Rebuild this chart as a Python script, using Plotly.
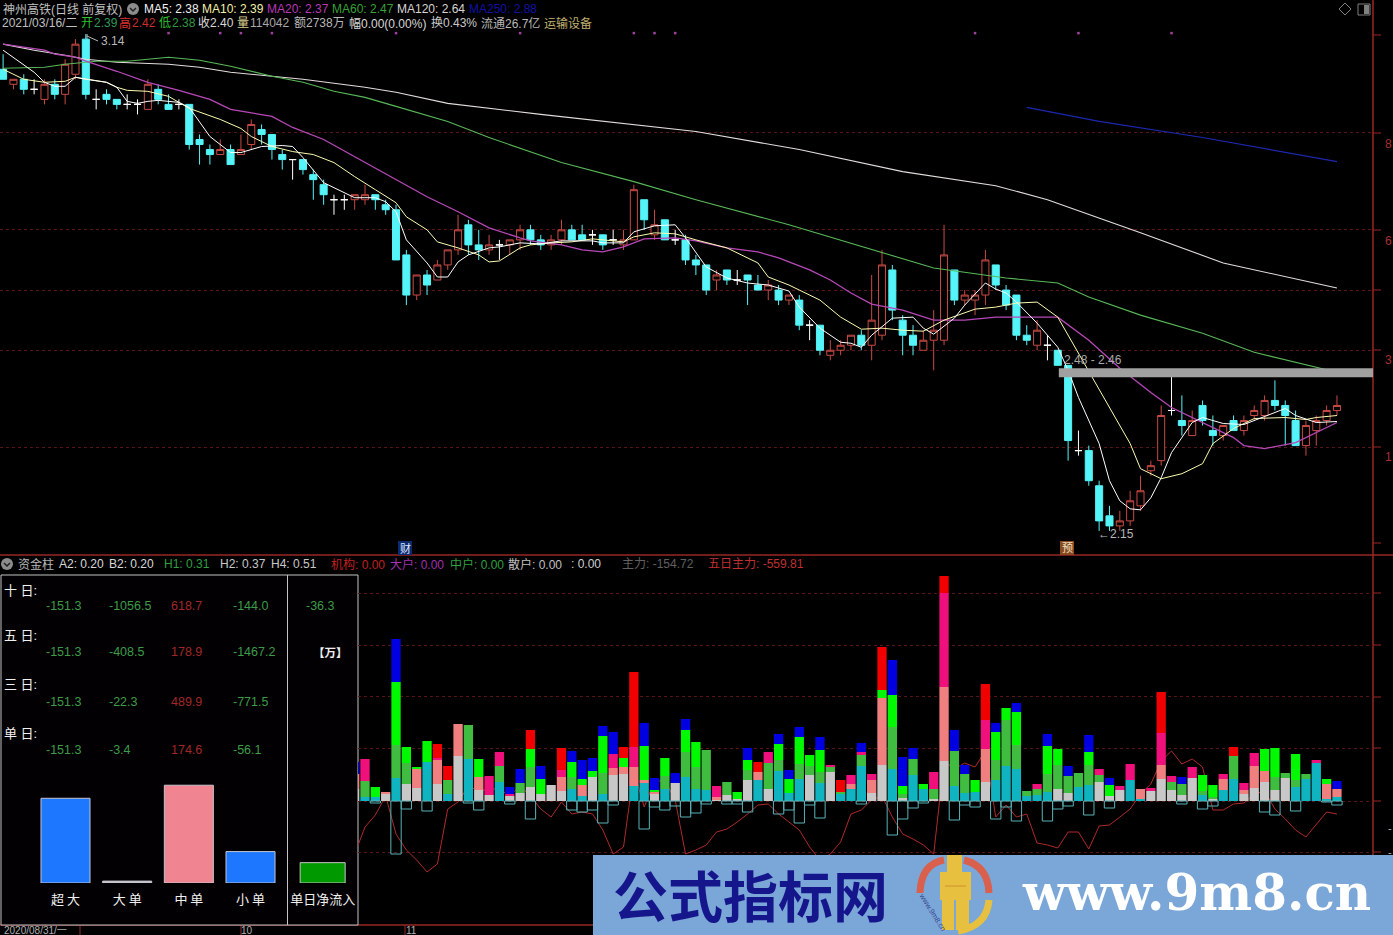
import plotly.graph_objects as go

W, H = 1393, 935
FONT = "Liberation Sans, Noto Sans CJK SC"

# ---------- candles (front-adjusted price, one row of ten per line) ----------
opens = [3.07,3.04,3.05,3.03,3.01,3.04,3.02,3.06,3.13,3.01,
 3.02,3.01,3.00,3.00,2.99,3.03,3.00,3.00,3.00,2.93,
 2.91,2.90,2.91,2.90,2.92,2.95,2.94,2.90,2.89,2.89,
 2.86,2.84,2.81,2.81,2.81,2.81,2.82,2.80,2.79,2.70,
 2.62,2.66,2.65,2.68,2.71,2.76,2.72,2.71,2.72,2.72,
 2.73,2.75,2.73,2.72,2.73,2.75,2.74,2.74,2.74,2.73,
 2.72,2.73,2.81,2.74,2.77,2.73,2.73,2.69,2.68,2.65,
 2.67,2.65,2.66,2.64,2.63,2.63,2.61,2.61,2.56,2.56,
 2.50,2.51,2.52,2.54,2.52,2.54,2.67,2.57,2.54,2.51,
 2.53,2.53,2.67,2.61,2.61,2.62,2.68,2.63,2.62,2.54,
 2.52,2.52,2.51,2.48,2.31,2.31,2.24,2.18,2.16,2.17,
 2.20,2.27,2.29,2.39,2.37,2.34,2.40,2.35,2.34,2.37,
 2.35,2.38,2.38,2.41,2.40,2.37,2.32,2.35,2.37,2.39]
highs = [3.10,3.05,3.06,3.05,3.05,3.05,3.09,3.13,3.14,3.03,
 3.03,3.01,3.02,3.01,3.05,3.04,3.02,3.01,3.00,2.94,
 2.92,2.93,2.92,2.94,2.97,2.96,2.94,2.91,2.89,2.89,
 2.87,2.85,2.82,2.82,2.82,2.84,2.82,2.81,2.80,2.71,
 2.66,2.67,2.69,2.71,2.78,2.77,2.75,2.74,2.73,2.73,
 2.76,2.76,2.74,2.74,2.77,2.76,2.76,2.75,2.74,2.75,
 2.75,2.84,2.81,2.79,2.77,2.75,2.74,2.70,2.68,2.67,
 2.67,2.67,2.66,2.66,2.65,2.64,2.62,2.62,2.57,2.56,
 2.53,2.53,2.54,2.55,2.66,2.71,2.68,2.58,2.56,2.55,
 2.59,2.76,2.67,2.63,2.63,2.71,2.68,2.64,2.62,2.56,
 2.57,2.54,2.51,2.48,2.35,2.32,2.25,2.20,2.19,2.23,
 2.26,2.29,2.40,2.46,2.42,2.39,2.41,2.38,2.36,2.38,
 2.38,2.40,2.42,2.45,2.41,2.39,2.37,2.38,2.40,2.42]
lows = [3.05,3.03,3.02,3.02,3.00,3.01,3.00,3.05,3.01,2.99,
 3.00,2.99,2.99,2.98,2.99,3.00,2.99,2.99,2.91,2.88,
 2.88,2.90,2.88,2.90,2.91,2.92,2.89,2.87,2.85,2.86,
 2.81,2.80,2.78,2.79,2.79,2.80,2.79,2.78,2.69,2.60,
 2.61,2.62,2.65,2.67,2.70,2.70,2.69,2.70,2.69,2.70,
 2.71,2.72,2.71,2.71,2.72,2.73,2.73,2.72,2.71,2.72,
 2.71,2.73,2.75,2.73,2.73,2.72,2.68,2.66,2.62,2.63,
 2.64,2.64,2.60,2.63,2.61,2.60,2.60,2.55,2.53,2.50,
 2.49,2.50,2.51,2.51,2.49,2.53,2.57,2.50,2.50,2.51,
 2.47,2.52,2.60,2.60,2.58,2.60,2.63,2.59,2.53,2.52,
 2.51,2.49,2.48,2.29,2.30,2.24,2.15,2.15,2.15,2.16,
 2.19,2.26,2.28,2.38,2.34,2.34,2.36,2.32,2.33,2.35,
 2.34,2.37,2.37,2.39,2.32,2.32,2.30,2.32,2.36,2.38]
closes = [3.05,3.05,3.03,3.03,3.04,3.02,3.08,3.12,3.02,3.01,
 3.01,3.00,3.00,3.00,3.04,3.01,2.99,3.00,2.92,2.92,
 2.90,2.91,2.88,2.91,2.96,2.94,2.91,2.89,2.89,2.87,
 2.85,2.82,2.81,2.81,2.82,2.82,2.81,2.79,2.69,2.62,
 2.66,2.64,2.68,2.71,2.75,2.72,2.71,2.72,2.72,2.73,
 2.75,2.73,2.72,2.73,2.75,2.73,2.73,2.74,2.72,2.73,
 2.73,2.83,2.77,2.76,2.73,2.73,2.69,2.68,2.63,2.66,
 2.65,2.65,2.65,2.63,2.64,2.61,2.62,2.56,2.56,2.51,
 2.51,2.52,2.54,2.52,2.57,2.68,2.59,2.54,2.52,2.53,
 2.55,2.70,2.61,2.62,2.62,2.69,2.64,2.60,2.54,2.53,
 2.55,2.52,2.48,2.33,2.31,2.25,2.17,2.16,2.17,2.21,
 2.23,2.28,2.38,2.39,2.36,2.37,2.37,2.34,2.36,2.35,
 2.37,2.39,2.41,2.40,2.38,2.32,2.36,2.37,2.39,2.40]

# ---------- moving averages (sampled at the candle index) ----------
ma5_i = [0,3,4,5,6,7,8,10,11,12,13,14,15,17,18,19,20,22,23,25,27,28,29,31,33,34,36,37,38,39,41,42,43,44,45,47,48,50,52,54,57,58,60,61,63,65,66,67,68,70,72,74,76,77,79,81,82,83,84,86,88,89,90,92,93,95,96,97,98,100,102,103,104,106,107,108,109,110,111,112,113,115,116,118,120,122,124,125,127,129]
ma5_v = [3.108,3.064,3.044,3.036,3.036,3.054,3.05,3.044,3.034,3.006,3.002,3.006,3.008,3.004,2.994,2.966,2.936,2.904,2.904,2.916,2.918,2.916,2.894,2.844,2.824,2.814,2.814,2.806,2.786,2.73,2.684,2.656,2.656,2.686,2.70,2.714,2.716,2.724,2.722,2.728,2.728,2.724,2.724,2.746,2.758,2.76,2.734,2.706,2.676,2.654,2.644,2.64,2.628,2.596,2.554,2.526,2.524,2.516,2.54,2.574,2.576,2.554,2.542,2.574,2.60,2.644,2.632,2.624,2.606,2.564,2.516,2.47,2.416,2.324,2.25,2.21,2.194,2.192,2.216,2.256,2.306,2.366,2.376,2.364,2.362,2.378,2.394,2.38,2.366,2.368]
ma10_i = [0,2,4,6,7,10,11,12,14,16,17,18,21,23,24,26,28,30,32,34,36,38,39,41,42,44,46,47,48,50,51,53,55,57,59,60,61,63,65,67,70,73,74,76,77,79,81,83,85,87,89,91,94,96,98,100,102,103,105,107,109,110,112,114,116,117,119,121,124,126,127,129]
ma10_v = [3.07,3.05,3.044,3.046,3.054,3.044,3.034,3.028,3.026,3.016,3.004,2.992,2.97,2.952,2.936,2.916,2.906,2.90,2.884,2.856,2.83,2.804,2.776,2.75,2.726,2.714,2.70,2.686,2.688,2.714,2.72,2.724,2.726,2.732,2.728,2.726,2.736,2.744,2.742,2.73,2.714,2.684,2.656,2.64,2.63,2.61,2.576,2.552,2.554,2.55,2.548,2.57,2.592,2.596,2.604,2.606,2.576,2.54,2.47,2.396,2.324,2.274,2.254,2.264,2.284,2.324,2.354,2.374,2.376,2.372,2.376,2.38]
ma20_i = [0,3,4,5,7,8,11,14,17,20,22,26,28,31,34,38,41,44,47,50,51,54,56,58,60,62,65,67,70,73,75,78,80,82,84,87,90,93,96,102,104,105,108,111,113,116,119,120,122,125,127,129]
ma20_v = [3.12,3.112,3.108,3.10,3.094,3.086,3.066,3.044,3.028,3.01,2.99,2.976,2.954,2.93,2.896,2.85,2.816,2.786,2.754,2.734,2.728,2.72,2.71,2.706,2.716,2.732,2.734,2.728,2.714,2.706,2.694,2.67,2.65,2.624,2.602,2.59,2.57,2.57,2.576,2.576,2.546,2.53,2.474,2.426,2.396,2.366,2.336,2.32,2.314,2.326,2.346,2.366]
ma60_i = [0,4,6,9,12,16,19,22,26,29,32,35,38,43,47,54,61,67,76,85,90,97,102,105,110,116,121,129]
ma60_v = [3.072,3.074,3.08,3.086,3.086,3.094,3.088,3.076,3.056,3.044,3.026,3.014,2.996,2.966,2.934,2.884,2.846,2.81,2.76,2.704,2.674,2.654,2.644,2.616,2.58,2.544,2.506,2.466]
ma120_i = [0,3,6,8,11,16,19,22,26,29,32,35,38,43,52,61,67,77,87,96,101,110,118,129]
ma120_v = [3.12,3.108,3.098,3.09,3.084,3.08,3.074,3.064,3.056,3.05,3.042,3.034,3.024,3.002,2.98,2.96,2.946,2.91,2.866,2.838,2.81,2.744,2.684,2.634]
ma250_i = [99,106,116,129]
ma250_v = [2.994,2.966,2.934,2.886]

flag_i = [16,21,23,26,38,50,61,63,65,94,104,113]
flag_price = 3.142
band_low, band_high = 2.456, 2.474
main_grid = [2.944,2.75,2.63,2.51,2.316]

# ---------- 资金柱 stacked columns, first column = candle 34 ----------
bar_start = 34
l1_codes = "GTTGTGGTGT" "GTGGTGGGGG" "GTTGTGGTTG" "TGTTTGGGGT" "GTTTGTGTTT" "GGTGTTGGTT" "TGTTTTTTGG" "TTGGGTTGGG" "GGTGTTGGGG" "GTTTTT"
l1_vals = [12,4,4,7,23,17,13,39,17,7, 45,42,11,6,19,5,8,14,7,16, 10,12,5,24,7,26,27,15,18,7, 12,18,24,12,11,1,6,2,21,21,
 12,30,8,22,26,18,29,7,12,35, 8,36,32,3,26,12,2,40,15,8, 9,19,21,35,32,5,6,9,12,8, 14,16,19,5,11,21,2,10,22,11,
 6,23,6,2,11,22,7,13,19,11, 23,14,22,38,2,4]
l2_codes = "SDDSDDSDSD" "SDSSDSDDDS" "SDSDDSSSSS" "DDDDDSDDDS" "DDDDDDDDSD" "SSDDDDDSDD" "DSDDDDDDDD" "DDDDDDSDSD" "DDDDSDSSSD" "DDDDSS"
l2_vals = [15,16,0,2,33,21,19,0,24,14, 32,34,13,0,16,0,10,20,0,0, 14,12,11,0,21,7,7,19,3,2, 13,0,25,22,40,3,13,0,10,8,
 26,11,0,15,9,11,5,2,5,11, 13,67,42,4,16,0,10,74,35,19, 0,33,20,46,24,5,6,18,24,17, 14,20,7,0,0,0,10,0,14,8,
 11,0,4,2,11,23,4,22,11,13, 5,7,5,0,15,8]
l3_codes = "PPLLLLLLPP" "LLLPPPLLLL" "PLLLLPLPLL" "LLLLLPLLLL" "PLLLLLPLPP" "PLLLLLPPLL" "LPLLLLPLLL" "LLPLPPLPPP" "LPLLPLPPLL" "LLLPLL"
l3_vals = [0,22,10,0,63,16,2,21,2,0, 0,0,18,19,14,2,0,18,15,0, 7,15,6,6,37,14,9,20,34,2, 18,0,22,25,0,11,0,7,10,0,
 11,16,14,27,11,22,2,0,9,3, 6,8,32,8,0,5,17,94,0,0, 12,29,28,12,33,0,5,28,16,0, 0,13,6,11,4,16,0,3,32,6,
 0,11,16,12,5,0,7,13,22,29, 0,26,0,3,5,0]
l4_codes = "BRBBBBBBRR" "BBBBBBBRBR" "RBBBBBRRBB" "BBBBBBBBBR" "BBBBBBBRBB" "BRBBBBBRBB" "BRBBBBBBBB" "BBBBBBBBRB" "BBBBBRBBBB" "BBBBBB"
l4_vals = [12,0,0,0,43,0,0,0,14,14, 0,0,0,0,0,7,14,19,13,0, 22,11,19,13,10,22,11,75,23,12, 0,10,11,0,0,0,0,0,12,10,
 0,10,9,10,0,13,0,12,0,9, 0,43,35,29,11,0,0,17,21,9, 0,36,9,0,9,0,0,12,0,10, 0,17,0,7,0,0,0,0,41,0,
 7,0,0,0,0,9,0,0,0,0, 0,0,0,0,0,8]
outflow_vals = [0,0,-2,0,-53,-8,0,-10,0,0, 0,-2,-9,0,0,-3,0,-18,0,0, 0,-9,-11,-9,-22,-4,0,0,-28,-6, -9,-5,-16,-12,-3,0,-3,-3,-11,0,
 0,-13,-9,-22,-4,-17,0,0,0,-3, 0,0,-34,-18,-7,-2,0,0,-19,-4, -6,0,-18,-6,-20,0,0,-20,-8,-5, 0,-14,0,-7,0,0,0,0,0,0,
 -3,0,-8,-5,0,0,0,0,-11,-14, 0,-10,0,0,-1,-4]
flow_line = [-53,-26,-14,5,-33,-49,-59,-71,-63,-8, -1,15,10,12,12,5,15,5,-8,-16, -1,-13,-11,-13,-29,-53,-46,30,-6,20, 20,1,-53,-49,-44,-31,-28,-21,-13,-4,
 -3,-13,-21,-29,-46,-59,-53,-41,-13,-9, 1,5,-16,-33,-38,-44,-53,40,32,38, 34,50,-16,-4,-16,-13,-42,-44,-47,-31, -31,-48,-25,-24,-16,-8,7,17,40,50,
 37,42,34,-9,-9,-3,-2,7,10,-8, -18,-29,-36,-23,-11,-13]
sub_grid = [-51,0,53,105,156,208]
palette = dict(G="#c8c8c8", T="#10b4c0", S="#f08080", D="#40bc40", P="#f0107c", L="#00f800", R="#f00000", B="#0000e0")

# ---------- left table ----------
order_names = ["超 大","大 单","中 单","小 单"]
today_abs = [151.3,3.4,174.6,56.1]
net_name = "单日净流入"
net_abs = 36.3
row_names = ["十 日:","五 日:","三 日:","单 日:"]
row_texts = [["-151.3","-1056.5","618.7","-144.0"],["-151.3","-408.5","178.9","-1467.2"],["-151.3","-22.3","489.9","-771.5"],["-151.3","-3.4","174.6","-56.1"]]

# ---------- pixel helpers for furniture ----------
px = lambda x: x / W
py = lambda y: 1 - y / H
P0, DX = 3.1, 10.34
X_RIGHT = 1373
LEFT_W = 358

anns, shapes = [], []
def txt(x, y, s, color, size=12, anchor="left", **kw):
    anns.append(dict(x=px(x), y=py(y), xref="paper", yref="paper", text=s, showarrow=False,
                     xanchor=anchor, yanchor="middle", borderpad=0,
                     font=dict(color=color, size=size, family=kw.pop("family", FONT)), **kw))
def seg(x0, y0, x1, y1, color, w=1, layer="below", dash=None):
    shapes.append(dict(type="line", xref="paper", yref="paper", x0=px(x0), y0=py(y0), x1=px(x1), y1=py(y1),
                       layer=layer, line=dict(color=color, width=w, dash=dash or "solid")))
def box(x0, y0, x1, y1, fill, line=None, w=1, layer="below", kind="rect"):
    shapes.append(dict(type=kind, xref="paper", yref="paper", x0=px(x0), y0=py(y0), x1=px(x1), y1=py(y1), layer=layer,
                       fillcolor=fill, line=dict(color=line or "rgba(0,0,0,0)", width=w if line else 0)))
def curve(points, color, w, layer="above", fill=None):
    d = ""
    for cmd, pts in points:
        d += cmd + " ".join(f"{px(a):.5f},{py(b):.5f}" for a, b in pts) + " "
    shapes.append(dict(type="path", xref="paper", yref="paper", path=d, layer=layer,
                       fillcolor=fill or "rgba(0,0,0,0)", line=dict(color=color, width=w)))
def chevron(cx, cy):
    box(cx-6, cy-6, cx+6, cy+6, "#8c8c8c", kind="circle")
    curve([("M", [(cx-3, cy-1)]), ("L", [(cx, cy+2)]), ("L", [(cx+3, cy-1)])], "#202020", 1.5)

fig = go.Figure()

# ---------- main price panel ----------
idx = list(range(len(opens)))
plain = [i for i in idx if opens[i] != closes[i]]
doji = [i for i in idx if opens[i] == closes[i]]
pick = lambda seq, ids: [seq[i] for i in ids]
fig.add_trace(go.Candlestick(x=plain, open=pick(opens, plain), high=pick(highs, plain), low=pick(lows, plain), close=pick(closes, plain),
    increasing=dict(line=dict(color="#c84a44", width=1), fillcolor="#000000"),
    decreasing=dict(line=dict(color="#54f4f8", width=1), fillcolor="#54f4f8"), whiskerwidth=0, showlegend=False, hoverinfo="skip"))
fig.add_trace(go.Candlestick(x=doji, open=pick(opens, doji), high=pick(highs, doji), low=pick(lows, doji), close=pick(closes, doji),
    increasing=dict(line=dict(color="#ffffff", width=1), fillcolor="#ffffff"),
    decreasing=dict(line=dict(color="#ffffff", width=1), fillcolor="#ffffff"), whiskerwidth=0, showlegend=False, hoverinfo="skip"))
for xs, ys, c, w in [(ma250_i, ma250_v, "#1c28b0", 1.2), (ma120_i, ma120_v, "#e4dcdc", 1.1), (ma60_i, ma60_v, "#58b858", 1.1),
                     (ma20_i, ma20_v, "#b848b8", 1.3), (ma10_i, ma10_v, "#fcfcb0", 1), (ma5_i, ma5_v, "#ffffff", 1)]:
    fig.add_trace(go.Scatter(x=xs, y=ys, mode="lines", line=dict(color=c, width=w), showlegend=False, hoverinfo="skip"))
fig.add_trace(go.Scatter(x=flag_i, y=[flag_price]*len(flag_i), mode="markers",
                         marker=dict(color="#a040a0", size=2.5, symbol="square"), showlegend=False, hoverinfo="skip"))
shapes.append(dict(type="rect", xref="x", yref="y", x0=102.1, x1=132.49, y0=band_low, y1=band_high, fillcolor="#a0a0a0", line=dict(width=0), layer="above"))

# ---------- lower panel ----------
bx = [bar_start + k for k in range(len(l1_vals))]
fig.add_trace(go.Scatter(x=bx, y=flow_line, mode="lines", line=dict(color="#b02a2a", width=1), xaxis="x2", yaxis="y2", showlegend=False, hoverinfo="skip"))
for vals, codes in [(l1_vals, l1_codes), (l2_vals, l2_codes), (l3_vals, l3_codes), (l4_vals, l4_codes)]:
    fig.add_trace(go.Bar(x=bx, y=vals, width=0.9, marker=dict(color=[palette[c] for c in codes], line=dict(width=0)),
                         xaxis="x2", yaxis="y3", showlegend=False, hoverinfo="skip"))
fig.add_trace(go.Bar(x=bx, y=[v if v else None for v in outflow_vals], width=1.0,
                     marker=dict(color="rgba(0,0,0,0)", line=dict(color="#58b4b8", width=1)),
                     xaxis="x2", yaxis="y3", showlegend=False, hoverinfo="skip"))

# ---------- inset columns ----------
slots = [0, 1, 2, 3]
net_slot = 4.17
col_colors = ["#1e78ff", "#c4c4c4", "#f08490", "#1e78ff"]
fig.add_trace(go.Bar(x=slots, y=today_abs, width=0.795, marker=dict(color=col_colors, line=dict(color="#c4c4d0", width=1)),
                     xaxis="x4", yaxis="y4", showlegend=False, hoverinfo="skip"))
fig.add_trace(go.Bar(x=[net_slot], y=[net_abs], width=0.73, marker=dict(color="#009a00", line=dict(color="#c4c4c4", width=1)),
                     xaxis="x4", yaxis="y4", showlegend=False, hoverinfo="skip"))

# ---------- furniture ----------
RED = "#9a2626"
seg(X_RIGHT, 0, X_RIGHT, 925, RED, 1.5)
seg(0, 555, W, 555, RED, 1.5)
seg(0, 925, W, 925, RED, 1.5)
for y in [35, 133, 230, 290, 350, 447, 543, 593, 645, 697, 748, 801, 852]:
    seg(X_RIGHT, y, X_RIGHT+8, y, RED, 1)
for x in [80, 241, 405]:
    seg(x, 925, x, 935, RED, 1)
box(1, 575, LEFT_W, 925, "#030003", "#c4c4c4", 1)
seg(287.5, 575, 287.5, 925, "#c4c4c4", 1)

# header lines
txt(2, 9, "神州高铁(日线 前复权)", "#c0c0c0", 12)
chevron(133, 9)
for x, s, c in [(143,"MA5: 2.38","#f0f0f0"),(201,"MA10: 2.39","#f0f0a8"),(266,"MA20: 2.37","#b838b8"),(331,"MA60: 2.47","#38a038"),
                (396,"MA120: 2.64","#d8d4d4"),(468,"MA250: 2.88","#1010a8")]:
    txt(x, 9, s, c, 12)
for x, s, c in [(1,"2021/03/16/二","#c0c0c0"),(80,"开","#30c030"),(93,"2.39","#309858"),(118,"高","#e03030"),(131,"2.42","#c83030"),
                (158,"低","#30c030"),(171,"2.38","#309840"),(197,"收2.40","#d8d8d8"),(236,"量","#d8d090"),(249,"114042","#a8a8a8"),
                (293,"额2738万","#b8b8b8"),(348,"幅0.00(0.00%)","#d8d8d8"),(430,"换0.43%","#c8c8c8"),(480,"流通26.7亿","#b8b8b8"),(543,"运输设备","#c0b070")]:
    txt(x, 23, s, c, 12)
chevron(7, 564)
for x, s, c in [(17,"资金柱","#b8b8b8"),(58,"A2: 0.20","#d8d8d8"),(108,"B2: 0.20","#d8d8d8"),(163,"H1: 0.31","#30a040"),(219,"H2: 0.37","#c8c8c8"),
                (270,"H4: 0.51","#c8c8c8"),(330,"机构: 0.00","#c02020"),(389,"大户: 0.00","#a030b0"),(449,"中户: 0.00","#30a040"),
                (507,"散户: 0.00","#c0c0c0"),(570,": 0.00","#d0d0d0"),(621,"主力: -154.72","#606060"),(707,"五日主力: -559.81","#c03030")]:
    txt(x, 564, s, c, 12)

# price annotations and clipped axis digits
txt(100, 41, "3.14", "#b8b8b8", 12)
seg(87, 36, 98, 41, "#b8b8b8", 1)
seg(87, 34, 87, 40, "#b8b8b8", 1)
txt(1097, 534, "←2.15", "#b8b8b8", 12)
txt(1063, 360, "2.48 - 2.46", "#a8a8a8", 12)
for y, s in [(144,"8"),(241,"6"),(360,"3"),(457,"1")]:
    txt(1384, y, s, "#a83030", 12)
for y in [828, 852]:
    txt(1387, y, "-", "#b0b0b0", 11)
box(1067-7, 541, 1067+7, 555, "#8a4a20")
txt(1067, 548, "预", "#f0e0c0", 11, "center")
box(405-7, 541, 405+7, 555, "#0c2a70")
txt(405, 548, "财", "#e0e8ff", 11, "center")

# top-right glyphs
curve([("M", [(1345,3)]), ("L", [(1351,9)]), ("L", [(1345,15)]), ("L", [(1339,9)]), ("Z", [])], "#808080", 1, "below")
box(1358, 4, 1370, 15, "#000000", "#808080", 1)
box(1364, 5, 1369, 14, "#808080")

# date strip
txt(3, 930, "2020/08/31/一", "#b0b0b0", 10)
txt(247, 930, "10", "#b0b0b0", 10, "center")
txt(411, 930, "11", "#b0b0b0", 10, "center")

# left table text
GREEN_T, RED_T = "#3c9c48", "#a02828"
cols = [45, 108, 170, 232]
for k, (ry, vy) in enumerate([(590,606),(635,652),(684,702),(733,750)]):
    txt(3, ry, row_names[k], "#f0f0f0", 13)
    for cx, s in zip(cols, row_texts[k]):
        txt(cx, vy, s, GREEN_T if s.startswith("-") else RED_T, 12.5)
txt(305, 606, "-36.3", GREEN_T, 12.5)
txt(312, 653, "<b>【万】</b>", "#f0f0f0", 11.5)

# watermark banner
box(593, 855, W, 935, "#7ba7d8", layer="above")
txt(612, 893, "<b>公式指标网</b>", "#16168c", 55, family="Noto Sans CJK SC")
txt(1021, 892, "<b>www.9m8.cn</b>", "#ffffff", 50, family="DejaVu Serif")
curve([("M", [(920,893)]), ("Q", [(921,864),(944,860)])], "#d8604c", 7)
curve([("M", [(964,860)]), ("Q", [(988,866),(989,893)])], "#d8604c", 7)
curve([("M", [(989,900)]), ("Q", [(987,926),(958,931)])], "#e8c040", 7)
box(947, 855, 962, 872, "#e8c040", layer="above")
box(940, 872, 971, 900, "#e8c040", layer="above")
box(942, 900, 969, 930, "#e8c040", layer="above")
seg(955, 900, 955, 930, "#7ba7d8", 2, "above")
seg(945, 886, 966, 886, "#d8a030", 1.5, "above")
txt(933, 912, "www.9m8.cn", "#3a4a90", 7.5, "center", textangle=58)

fig.update_layout(
    width=W, height=H, margin=dict(l=0, r=0, t=0, b=0), autosize=False,
    paper_bgcolor="#000000", plot_bgcolor="#000000", barmode="relative", boxgap=0.15, boxgroupgap=0.2, showlegend=False,
    hovermode=False, annotations=anns, shapes=shapes, font=dict(family=FONT),
    xaxis=dict(domain=[0, px(X_RIGHT)], range=[(0-P0)/DX, (X_RIGHT-P0)/DX], visible=False, rangeslider=dict(visible=False), anchor="y"),
    yaxis=dict(domain=[py(555), 1], range=[2.102, 3.208], showgrid=True, gridcolor="#581616", griddash="dot", gridwidth=1,
               tickvals=main_grid, showticklabels=False, ticks="", zeroline=False, showline=False, anchor="x"),
    xaxis2=dict(domain=[px(LEFT_W), px(X_RIGHT)], range=[(LEFT_W-P0)/DX, (X_RIGHT-P0)/DX], visible=False, anchor="y2"),
    yaxis2=dict(domain=[0, py(555)], range=[-134, 246], showgrid=True, gridcolor="#581616", griddash="dot", gridwidth=1,
                tickvals=sub_grid, showticklabels=False, ticks="", zeroline=False, showline=False, anchor="x2"),
    yaxis3=dict(domain=[0, py(555)], range=[-134, 246], overlaying="y2", visible=False, anchor="x2"),
    xaxis4=dict(domain=[0, px(LEFT_W)], range=[(0-65.5)/61.67, (LEFT_W-65.5)/61.67], anchor="y4", showgrid=False, zeroline=False, showline=False,
                tickmode="array", tickvals=slots + [net_slot], ticktext=order_names + [net_name],
                tickfont=dict(color="#f0f0f0", size=13, family="Noto Sans CJK SC"), ticks="outside", ticklen=4, tickcolor="rgba(0,0,0,0)"),
    yaxis4=dict(domain=[py(883), py(775)], range=[0, 108/0.56], visible=False, anchor="x4"),
)
fig.write_html("out.html", config=dict(displayModeBar=False),
               post_script="document.body.style.margin='0';document.body.style.overflow='hidden';document.body.style.background='#000';")
